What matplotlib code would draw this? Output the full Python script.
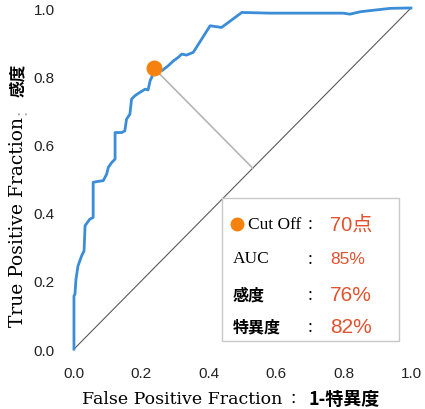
import matplotlib
matplotlib.use('Agg')
import matplotlib.pyplot as plt
from matplotlib.patches import Rectangle

# ROC curve points (1-specificity, sensitivity)
fpf = [0.0, 0.0, 0.003, 0.006, 0.012, 0.023, 0.030, 0.033, 0.047, 0.057,
       0.057, 0.067, 0.087, 0.097, 0.102, 0.112, 0.122, 0.122, 0.142, 0.151,
       0.156, 0.166, 0.171, 0.181, 0.196, 0.211, 0.220, 0.226, 0.231, 0.238,
       0.262, 0.280, 0.295, 0.309, 0.320, 0.334, 0.354, 0.404, 0.438, 0.498,
       0.582, 0.798, 0.819, 0.849, 0.938, 0.987, 1.0]
tpf = [0.0, 0.156, 0.161, 0.205, 0.244, 0.274, 0.288, 0.362, 0.381, 0.386,
       0.489, 0.491, 0.494, 0.513, 0.533, 0.547, 0.557, 0.635, 0.635, 0.640,
       0.674, 0.689, 0.733, 0.743, 0.753, 0.762, 0.760, 0.787, 0.797, 0.823,
       0.817, 0.831, 0.845, 0.855, 0.865, 0.862, 0.870, 0.948, 0.943, 0.987,
       0.985, 0.985, 0.982, 0.989, 0.999, 1.0, 1.0]

# cut-off point on the curve
cut_x = 0.238
cut_y = 0.823

ticks = [0.0, 0.2, 0.4, 0.6, 0.8, 1.0]
tick_labels = ['0.0', '0.2', '0.4', '0.6', '0.8', '1.0']

stat_names = ['Cut Off', 'AUC', '感度', '特異度']
stat_values = ['70点', '85%', '76%', '82%']

blue = '#3a8dd6'
orange = '#f5820f'
red = '#e2522f'
serif = 'DejaVu Serif'
box_serif = 'Liberation Serif'
cjk = 'Noto Sans CJK JP'

fig = plt.figure(figsize=(4.25, 4.10), dpi=100)
ax = fig.add_axes([0.174, 0.146, 0.793, 0.832])
ax.set_xlim(0, 1)
ax.set_ylim(0, 1)
for s in ax.spines.values():
    s.set_visible(False)

# reference diagonal
ax.plot([0, 1], [0, 1], color='#5a5a5a', lw=0.8, zorder=1)

# perpendicular from the cut-off point down to the diagonal
foot = (cut_x + cut_y) / 2
ax.plot([cut_x, foot], [cut_y, foot], color='#b5b5b5', lw=1.2, zorder=1)

ax.plot(fpf, tpf, color=blue, lw=2.0, zorder=3, clip_on=False,
        solid_joinstyle='round')
ax.plot([cut_x], [cut_y], 'o', color=orange, ms=10.5, zorder=4, clip_on=False)

ax.set_xticks(ticks)
ax.set_xticklabels(tick_labels)
ax.set_yticks(ticks)
ax.set_yticklabels(tick_labels)
ax.tick_params(length=0, labelsize=11, labelcolor='#222222')
ax.tick_params(axis='x', pad=12)
ax.tick_params(axis='y', pad=14)
for lab in ax.get_xticklabels() + ax.get_yticklabels():
    lab.set_family('Liberation Sans')

# stats box
box = Rectangle((0.438, 0.024), 0.526, 0.419, transform=ax.transAxes,
                facecolor='white', edgecolor='#c8c8c8', lw=1.0, zorder=5)
ax.add_patch(box)

row_y = [0.367, 0.267, 0.161, 0.067]
ax.plot([0.483], [row_y[0]], 'o', color=orange, ms=9, transform=ax.transAxes,
        zorder=6, clip_on=False)
ax.text(0.516, row_y[0], stat_names[0], transform=ax.transAxes, family=box_serif,
        fontsize=12.5, va='center', ha='left', zorder=6)
ax.text(0.472, row_y[1], stat_names[1], transform=ax.transAxes, family=box_serif,
        fontsize=12.5, va='center', ha='left', zorder=6)
for i in (2, 3):
    ax.text(0.472, row_y[i], stat_names[i], transform=ax.transAxes, family=cjk,
            fontsize=11.5, fontweight='bold', va='center', ha='left', zorder=6)
for i in range(4):
    ax.text(0.700, row_y[i], ':', transform=ax.transAxes, family=box_serif,
            fontsize=13, va='center', ha='center', zorder=6)
val_sizes = [14.5, 12.5, 15, 15]
for i in range(4):
    ax.text(0.760, row_y[i], stat_values[i], transform=ax.transAxes,
            family=['Liberation Sans', cjk], fontsize=val_sizes[i], color=red,
            va='center', ha='left', zorder=6)

# x axis label: english part in serif, japanese part in gothic
fig.text(0.193, 0.026, 'False Positive Fraction', family=serif, fontsize=12.5,
         ha='left', va='center')
fig.text(0.689, 0.026, '：', family=cjk, fontsize=11, ha='center', va='center')
fig.text(0.725, 0.026, '1-特異度', family=cjk, fontsize=13,
         fontweight='bold', ha='left', va='center')

# y axis label
fig.text(0.042, 0.459, 'True Positive Fraction', family=serif, fontsize=13.5,
         rotation=90, ha='center', va='center')
fig.text(0.042, 0.737, '：', family=cjk, fontsize=11, color='#aaaaaa',
         rotation=90, ha='center', va='center')
fig.text(0.042, 0.805, '感度', family=cjk, fontsize=12, fontweight='bold',
         rotation=90, ha='center', va='center')

fig.savefig('out.png', dpi=100)
